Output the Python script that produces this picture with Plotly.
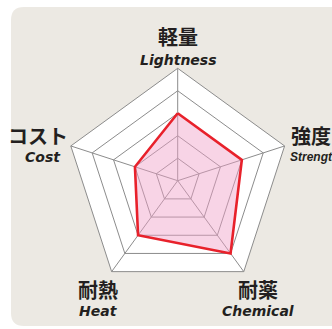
import plotly.graph_objects as go

# axes (clockwise from top) and scores out of 5
labels_jp = ["軽量", "強度", "耐薬", "耐熱", "コスト"]
labels_en = ["Lightness", "Strength", "Chemical", "Heat", "Cost"]
scores = [3, 3, 4, 3, 2]
max_score = 5

W, H = 332, 329

fig = go.Figure()
fig.add_trace(go.Scatterpolar(
    r=scores + scores[:1],
    theta=labels_en + labels_en[:1],
    mode="lines",
    fill="toself",
    fillcolor="rgba(240,160,200,0.45)",
    line=dict(color="#e8212b", width=2.6),
    hoverinfo="skip",
))

# label positions in pixels: x, y of japanese line, y of english line
label_pos = {
    "Lightness": (178, 37, 60),
    "Strength": (311, 135, 157),
    "Chemical": (258, 289, 311),
    "Heat": (98, 289, 311),
    "Cost": (38, 135, 157),
}

annotations = []
for jp, en in zip(labels_jp, labels_en):
    x, yj, ye = label_pos[en]
    annotations.append(dict(
        x=x / W, y=1 - yj / H, xref="paper", yref="paper", text="<b>" + jp + "</b>",
        showarrow=False, xanchor="center", yanchor="middle",
        font=dict(family="Noto Sans CJK JP", size=20, color="#231f20"),
    ))
    ex, anc_e = x, "center"
    fnt = dict(family="DejaVu Sans", size=14, color="#231f20")
    if en == "Strength":
        # squeezed at the right edge, as in the source
        ex, anc_e = 288, "left"
        fnt = dict(family="Liberation Sans", size=12, color="#231f20")
    if en == "Cost":
        ex = 43
    annotations.append(dict(
        x=ex / W, y=1 - ye / H, xref="paper", yref="paper",
        text="<b><i>" + en + "</i></b>",
        showarrow=False, xanchor=anc_e, yanchor="middle", font=fnt,
    ))

cx, cy, R = 177.7, 180.7, 112.4
bx0, by0, by1, rad = 11 / W, 1 - 7 / H, 1 - 326 / H, 13
fig.update_layout(
    width=W, height=H,
    margin=dict(l=0, r=0, t=0, b=0),
    paper_bgcolor="white",
    showlegend=False,
    shapes=[dict(
        type="path", xref="paper", yref="paper", layer="below",
        path=("M {0},{1} Q {0},{2} {3},{2} L 1.05,{2} L 1.05,{4} "
              "L {3},{4} Q {0},{4} {0},{5} Z").format(
            bx0, by0 - rad / H, by0, bx0 + rad / W, by1, by1 + rad / H),
        fillcolor="#ece9e3", line=dict(width=0),
    )],
    polar=dict(
        domain=dict(x=[(cx - R) / W, (cx + R) / W], y=[1 - (cy + R) / H, 1 - (cy - R) / H]),
        bgcolor="white",
        gridshape="linear",
        radialaxis=dict(range=[0, max_score], dtick=1, showticklabels=False, ticks="",
                        showline=False, gridcolor="#8c8c8c", gridwidth=1),
        angularaxis=dict(direction="clockwise", rotation=90, showticklabels=False, ticks="",
                         linecolor="#8c8c8c", linewidth=1, gridcolor="#8c8c8c", gridwidth=1),
    ),
    annotations=annotations,
)

fig.write_html("out.html", config={"displayModeBar": False},
               post_script="document.body.style.margin='0';")
